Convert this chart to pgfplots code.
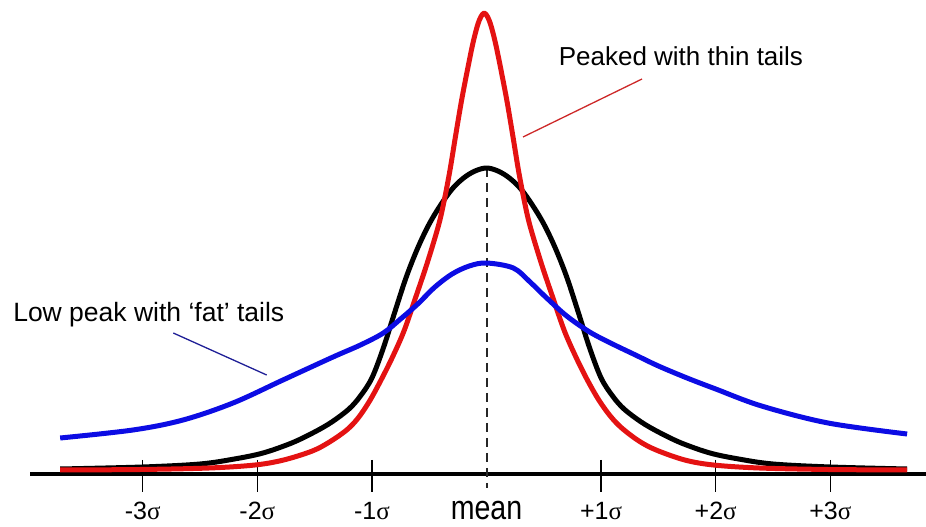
\documentclass[border=0pt]{standalone}
\usepackage{pgfplots}
\pgfplotsset{compat=1.18}
\usepackage{graphicx}
\usepackage{fontspec}
\setmainfont{Liberation Sans}
\newfontfamily\sigfont{Liberation Serif}

\definecolor{curvered}{RGB}{228,18,18}
\definecolor{curveblue}{RGB}{12,12,228}
\definecolor{leadred}{RGB}{205,40,40}
\definecolor{leadblue}{RGB}{30,30,150}

% tick label: digits + sigma
\newcommand{\sig}[1]{#1{\sigfont σ}}
\tikzset{ticklab/.style={anchor=base, font=\fontsize{25}{28}\selectfont}}

\begin{document}
\begin{tikzpicture}
\begin{axis}[
  name=ax,
  width=926pt, height=527pt, scale only axis,
  xmin=-4.245, xmax=3.835,
  ymin=-53, ymax=474,
  hide axis, clip=false,
]
% baseline, ticks and the mean line
\addplot[black, line width=4pt] coordinates {(-3.983,0) (3.835,0)};
\pgfplotsinvokeforeach{-3,-2,-1,1,2,3}{
  \addplot[black, line width=1.5pt] coordinates {(#1,14) (#1,-18)};
}
\addplot[black!85, line width=2pt, dash pattern=on 9pt off 6pt] coordinates {(0,306) (0,-14)};

% normal curve
\addplot[black, line width=5pt, smooth, tension=0.55, line join=round] coordinates {
  (-3.72,5) (-3.0,7) (-2.5,10) (-2.2,15) (-1.95,21) (-1.7,31) (-1.5,42)
  (-1.35,52) (-1.2,65) (-1.1,78) (-1.0,96) (-0.9,126) (-0.8,162) (-0.7,197)
  (-0.6,226) (-0.5,250) (-0.4,269) (-0.3,285) (-0.2,296) (-0.1,303) (0,306)
  (0.1,303) (0.2,296) (0.3,285) (0.4,269) (0.5,250) (0.6,226) (0.7,197)
  (0.8,162) (0.9,126) (1.0,96) (1.1,78) (1.2,65) (1.35,52) (1.5,42)
  (1.7,31) (1.95,21) (2.2,15) (2.5,10) (3.0,7) (3.67,5)
};
% peaked, thin tails
\addplot[curvered, line width=5pt, smooth, tension=0.55, line join=round] coordinates {
  (-3.72,4) (-3.02,4.5) (-2.42,6) (-2.02,9) (-1.77,14) (-1.52,23) (-1.37,32)
  (-1.22,44) (-1.12,56) (-1.02,73) (-0.92,94) (-0.82,117) (-0.72,143)
  (-0.62,176) (-0.52,210) (-0.42,248) (-0.37,273) (-0.32,303) (-0.27,338)
  (-0.22,372) (-0.17,402) (-0.12,430) (-0.08,448) (-0.05,457) (-0.02,461)
  (0.01,457) (0.04,448) (0.08,430) (0.13,402) (0.18,372) (0.23,338)
  (0.28,303) (0.33,273) (0.38,248) (0.48,210) (0.58,176) (0.68,143)
  (0.78,117) (0.88,94) (0.98,74) (1.08,58) (1.18,46) (1.33,33) (1.48,24)
  (1.73,14) (1.98,9) (2.38,6) (2.98,4.5) (3.67,4)
};
% low peak, fat tails
\addplot[curveblue, line width=5pt, smooth, tension=0.55, line join=round] coordinates {
  (-3.72,36) (-3.085,44) (-2.648,54) (-2.212,71) (-1.776,94) (-1.339,117)
  (-1.1,129) (-0.9,141) (-0.75,155) (-0.6,170) (-0.45,187) (-0.3,200)
  (-0.15,208) (0,211) (0.234,206) (0.38,192) (0.525,176) (0.7,158)
  (0.9,142) (1.1,130) (1.3,119) (1.5,108) (1.75,96) (2.0,85) (2.4,68)
  (2.98,51) (3.67,40)
};

% leader lines
\addplot[leadred, line width=1.3pt] coordinates {(0.3185,337) (1.357,395)};
\addplot[leadblue, line width=1.3pt] coordinates {(-2.733,141) (-1.918,99)};

% annotations
\node[anchor=base west, font=\fontsize{26}{30}\selectfont] at (axis cs:0.60,408) {Peaked with thin tails};
\node[anchor=base west, font=\fontsize{26.5}{30}\selectfont] at (axis cs:-4.16,152) {Low peak with ‘fat’ tails};

% tick labels
\node[ticklab] at (axis cs:-3,-46) {\sig{-3}};
\node[ticklab] at (axis cs:-2,-46) {\sig{-2}};
\node[ticklab] at (axis cs:-1,-46) {\sig{-1}};
\node[ticklab] at (axis cs:1,-46) {\sig{+1}};
\node[ticklab] at (axis cs:2,-46) {\sig{+2}};
\node[ticklab] at (axis cs:3,-46) {\sig{+3}};
\node[anchor=base, text depth=0pt, font=\fontsize{34}{38}\selectfont] at (axis cs:0,-46) {\scalebox{0.84}[1]{mean}};
\end{axis}
\pgfresetboundingbox
\path (ax.south west) rectangle (ax.north east);
\end{tikzpicture}
\end{document}
